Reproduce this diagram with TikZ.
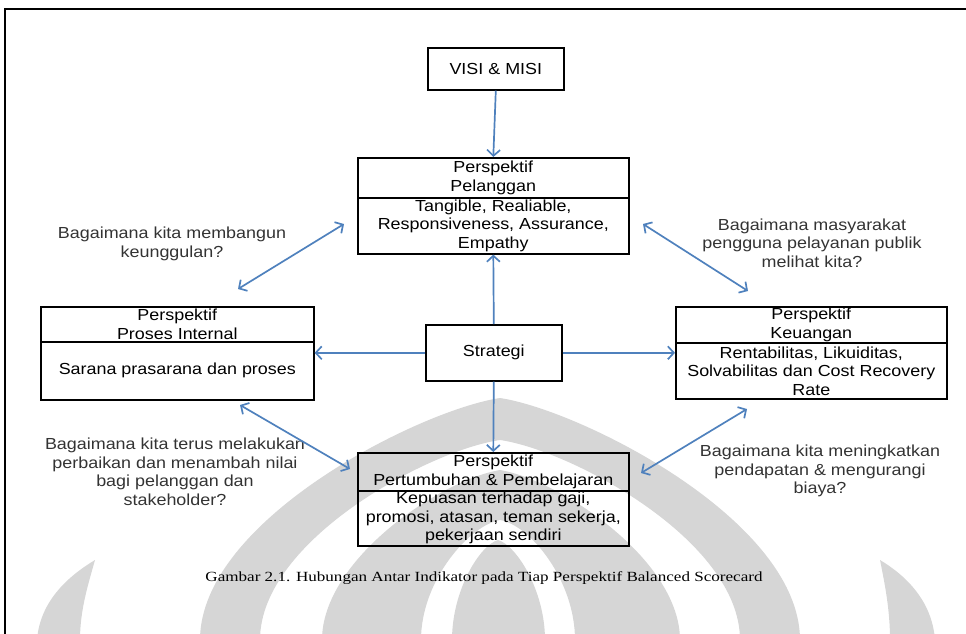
\documentclass[tikz,border=0pt]{standalone}
\usepackage{fontspec}
\setmainfont{Liberation Sans}[FakeStretch=1.12]
\newfontfamily\capfont{Liberation Serif}[FakeStretch=1.22]
\usetikzlibrary{arrows.meta}
\definecolor{arrowblue}{HTML}{4F81BD}
\definecolor{wmgray}{HTML}{D6D6D6}
\tikzset{
  box/.style={draw=black, line width=1.6pt, align=center, inner sep=0pt, anchor=north west,
    font=\fontsize{16}{18.5}\selectfont},
  tip/.tip={Straight Barb[length=6pt,width=13pt,line width=1.7pt]},
  conn/.style={draw=arrowblue, line width=1.7pt, -tip},
  dconn/.style={draw=arrowblue, line width=1.7pt, tip-tip},
  question/.style={align=center, text=black!80, inner sep=0pt, font=\fontsize{16}{18.5}\selectfont},
  wm/.style={fill=wmgray, draw=none, even odd rule},
}
\begin{document}
\begin{tikzpicture}[x=1pt,y=-1pt]
\useasboundingbox (0,0) rectangle (966,633);
% watermark (approximate)
\begin{scope}
\clip (0,395) rectangle (966,633);
\fill[wm] (200,640) .. controls (200,520) and (420,410) .. (500,398) .. controls (580,410) and (800,520) .. (800,640) -- cycle
          (260,640) .. controls (260,540) and (430,450) .. (500,440) .. controls (570,450) and (740,540) .. (740,640) -- cycle;
\fill[wm] (322,640) .. controls (322,560) and (440,480) .. (500,470) .. controls (560,480) and (680,560) .. (680,640) -- cycle
          (421,640) .. controls (421,580) and (470,525) .. (500,520) .. controls (530,525) and (575,580) .. (575,640) -- cycle;
\fill[wm] (452,640) .. controls (452,590) and (480,545) .. (498,540) .. controls (516,545) and (545,590) .. (545,640) -- cycle;
\fill[wm] (37,640) .. controls (40,600) and (70,575) .. (95,560) .. controls (88,585) and (80,610) .. (80,640) -- cycle;
\fill[wm] (935,640) .. controls (932,600) and (905,575) .. (880,560) .. controls (885,585) and (890,610) .. (890,640) -- cycle;
\end{scope}
% frame
\draw[line width=1.8pt] (5,640) -- (5,9) -- (975,9);

% boxes
\node[box, minimum width=136pt, minimum height=42pt] (visi) at (427,47) {VISI \& MISI};

\node[box, minimum width=271pt, minimum height=40pt] (pelH) at (357,157) {Perspektif\\Pelanggan};
\node[box, minimum width=271pt, minimum height=56pt] (pelB) at (357,197) {Tangible, Realiable,\\Responsiveness, Assurance,\\Empathy};

\node[box, minimum width=136pt, minimum height=56pt] (strat) at (425,324) {Strategi};

\node[box, minimum width=273pt, minimum height=35pt] (proH) at (40,306) {Perspektif\\Proses Internal};
\node[box, minimum width=273pt, minimum height=58pt] (proB) at (40,341) {Sarana prasarana dan proses};

\node[box, minimum width=271pt, minimum height=36pt] (keuH) at (675,306) {Perspektif\\Keuangan};
\node[box, minimum width=271pt, minimum height=56pt] (keuB) at (675,342) {Rentabilitas, Likuiditas,\\Solvabilitas dan Cost Recovery\\Rate};

\node[box, minimum width=271pt, minimum height=38pt] (perH) at (357,452) {Perspektif\\Pertumbuhan \& Pembelajaran};
\node[box, minimum width=271pt, minimum height=55pt] (perB) at (357,490) {Kepuasan terhadap gaji,\\promosi, atasan, teman sekerja,\\pekerjaan sendiri};

% questions
\node[question] (q1) at (172,244) {Bagaimana kita membangun\\keunggulan?};
\node[question] (q2) at (812,243) {Bagaimana masyarakat\\pengguna pelayanan publik\\melihat kita?};
\node[question] (q3) at (175,472) {Bagaimana kita terus melakukan\\perbaikan dan menambah nilai\\bagi pelanggan dan\\stakeholder?};
\node[question] (q4) at (820,471) {Bagaimana kita meningkatkan\\pendapatan \& mengurangi\\biaya?};

% caption
\node[inner sep=0pt, font=\capfont\fontsize{14}{16}\selectfont] (cap) at (484,578)
  {Gambar 2.1. Hubungan Antar Indikator pada Tiap Perspektif Balanced Scorecard};

% connectors
\draw[conn] (visi.south) -- (pelH.north);
\draw[conn] (strat.north) -- (pelB.south);
\draw[conn] (strat.west) -- (strat.west -| proB.east);
\draw[conn] (strat.east) -- (strat.east -| keuB.west);
\draw[conn] (strat.south) -- (perH.north);

\coordinate (a1) at (238,289);
\coordinate (b1) at (344,224);
\coordinate (a2) at (643,224);
\coordinate (b2) at (748,291);
\coordinate (a3) at (240,405);
\coordinate (b3) at (350,469);
\coordinate (a4) at (641,473);
\coordinate (b4) at (747,409);
\draw[dconn] (a1) -- (b1);
\draw[dconn] (a2) -- (b2);
\draw[dconn] (a3) -- (b3);
\draw[dconn] (a4) -- (b4);
\end{tikzpicture}
\end{document}
